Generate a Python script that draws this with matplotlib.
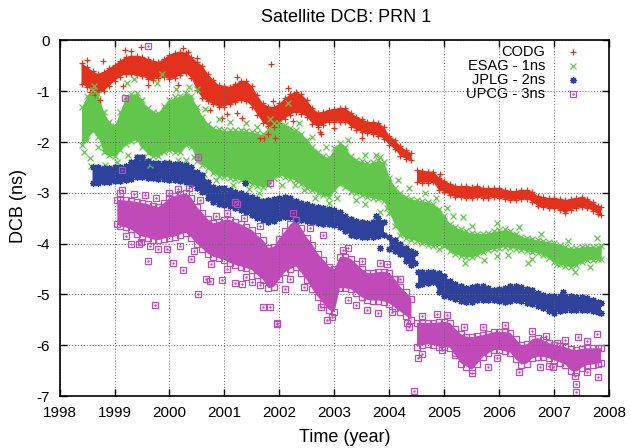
import numpy as np
import matplotlib.pyplot as plt

plt.rcParams['font.family'] = ['Liberation Sans', 'DejaVu Sans']
plt.rcParams['axes.unicode_minus'] = False

nan = np.nan

# ---- band edges (upper / lower envelope of the daily points)
codg_t = [1998.4, 1998.5, 1998.6, 1998.7, 1998.8, 1998.9, 1999.0, 1999.1, 1999.2, 1999.3,
          1999.4, 1999.5, 1999.6, 1999.7, 1999.8, 1999.9, 2000.0, 2000.1, 2000.2, 2000.3,
          2000.4, 2000.5, 2000.6, 2000.7, 2000.8, 2000.9, 2001.0, 2001.1, 2001.2, 2001.3,
          2001.4, 2001.5, 2001.6, 2001.7, 2001.8, 2001.9, 2002.0, 2002.1, 2002.2, 2002.3,
          2002.4, 2002.5, 2002.6, 2002.7, 2002.8, 2002.9, 2003.0, 2003.1, 2003.2, 2003.3,
          2003.4, 2003.5, 2003.6, 2003.7, 2003.8, 2003.9, 2004.0, 2004.1, 2004.2, 2004.3,
          2004.4, 2004.45, 2004.5, 2004.6, 2004.7, 2004.8, 2004.9, 2005.0, 2005.1, 2005.2,
          2005.3, 2005.4, 2005.5, 2005.6, 2005.7, 2005.8, 2005.9, 2006.0, 2006.1, 2006.2,
          2006.3, 2006.4, 2006.5, 2006.6, 2006.7, 2006.8, 2006.9, 2007.0, 2007.1, 2007.2,
          2007.3, 2007.4, 2007.5, 2007.6, 2007.7, 2007.8, 2007.85]
codg_hi = [-0.45, -0.52, -0.60, -0.66, -0.62, -0.55, -0.48, -0.40, -0.33, -0.30,
           -0.30, -0.32, -0.36, -0.40, -0.42, -0.36, -0.28, -0.24, -0.22, -0.24,
           -0.32, -0.42, -0.50, -0.66, -0.78, -0.88, -0.90, -0.91, -0.86, -0.79,
           -0.80, -0.90, -1.08, -1.24, -1.30, -1.31, -1.24, -1.14, -1.06, -1.01,
           -1.06, -1.17, -1.33, -1.42, -1.40, -1.37, -1.35, -1.33, -1.33, -1.42,
           -1.50, -1.55, -1.60, -1.61, -1.62, -1.70, -1.88, -1.95, -2.08, -2.16,
           -2.22, nan, -2.55, -2.56, -2.58, -2.58, -2.70, -2.76, -2.82, -2.86,
           -2.87, -2.87, -2.88, -2.86, -2.90, -2.91, -2.90, -2.91, -2.94, -2.97,
           -2.97, -2.94, -2.94, -2.98, -3.06, -3.09, -3.10, -3.10, -3.12, -3.14,
           -3.12, -3.10, -3.08, -3.12, -3.18, -3.26, -3.28]
codg_lo = [-0.85, -0.92, -0.98, -1.02, -1.00, -0.90, -0.80, -0.72, -0.66, -0.66,
           -0.68, -0.70, -0.76, -0.78, -0.74, -0.72, -0.76, -0.74, -0.68, -0.64,
           -0.74, -0.98, -1.14, -1.20, -1.26, -1.31, -1.30, -1.26, -1.22, -1.18,
           -1.20, -1.30, -1.46, -1.62, -1.68, -1.70, -1.62, -1.54, -1.46, -1.41,
           -1.44, -1.50, -1.64, -1.70, -1.66, -1.60, -1.60, -1.60, -1.60, -1.70,
           -1.76, -1.80, -1.82, -1.84, -1.88, -1.94, -2.06, -2.14, -2.28, -2.33,
           -2.36, nan, -2.78, -2.80, -2.80, -2.79, -2.95, -2.98, -3.05, -3.08,
           -3.09, -3.10, -3.10, -3.08, -3.10, -3.10, -3.08, -3.10, -3.12, -3.14,
           -3.14, -3.12, -3.12, -3.18, -3.26, -3.28, -3.30, -3.30, -3.34, -3.40,
           -3.34, -3.30, -3.28, -3.30, -3.36, -3.42, -3.44]

esag_t = [1998.4, 1998.5, 1998.6, 1998.7, 1998.8, 1998.9, 1999.0, 1999.1, 1999.2, 1999.3,
          1999.4, 1999.5, 1999.6, 1999.7, 1999.8, 1999.9, 2000.0, 2000.1, 2000.2, 2000.3,
          2000.4, 2000.5, 2000.6, 2000.7, 2000.8, 2000.9, 2001.0, 2001.1, 2001.2, 2001.3,
          2001.4, 2001.5, 2001.6, 2001.7, 2001.8, 2001.9, 2002.0, 2002.1, 2002.2, 2002.3,
          2002.4, 2002.5, 2002.6, 2002.7, 2002.8, 2002.9, 2003.0, 2003.1, 2003.2, 2003.3,
          2003.4, 2003.5, 2003.6, 2003.7, 2003.8, 2003.9, 2004.0, 2004.1, 2004.2, 2004.3,
          2004.4, 2004.5, 2004.6, 2004.7, 2004.8, 2004.9, 2005.0, 2005.1, 2005.2, 2005.3,
          2005.4, 2005.5, 2005.6, 2005.7, 2005.8, 2005.9, 2006.0, 2006.1, 2006.2, 2006.3,
          2006.4, 2006.5, 2006.6, 2006.7, 2006.8, 2006.9, 2007.0, 2007.1, 2007.2, 2007.3,
          2007.4, 2007.5, 2007.6, 2007.7, 2007.8, 2007.85]
esag_hi = [-1.30, -1.10, -0.98, -1.05, -1.40, -1.60, -1.68, -1.40, -1.12, -1.06,
           -1.04, -1.18, -1.32, -1.40, -1.42, -1.28, -1.17, -1.12, -1.10, -1.04,
           -1.10, -1.31, -1.50, -1.65, -1.72, -1.75, -1.77, -1.77, -1.76, -1.77,
           -1.78, -1.80, -1.83, -1.85, -1.75, -1.63, -1.62, -1.66, -1.72, -1.77,
           -1.85, -1.96, -2.09, -2.20, -2.28, -2.30, -2.12, -2.02, -2.10, -2.28,
           -2.35, -2.38, -2.42, -2.40, -2.36, -2.40, -2.70, -2.90, -3.00, -3.08,
           -3.12, -3.14, -3.16, -3.18, -3.22, -3.32, -3.45, -3.62, -3.68, -3.72,
           -3.76, -3.79, -3.80, -3.80, -3.79, -3.76, -3.74, -3.72, -3.76, -3.80,
           -3.86, -3.88, -3.90, -3.93, -3.94, -3.96, -3.99, -4.02, -4.06, -4.09,
           -4.08, -4.06, -4.05, -4.06, -4.06, -4.05]
esag_lo = [-2.05, -1.95, -1.78, -1.90, -2.20, -2.26, -2.28, -2.15, -2.04, -1.98,
           -1.96, -2.10, -2.22, -2.28, -2.28, -2.20, -2.16, -2.20, -2.20, -2.06,
           -2.10, -2.38, -2.45, -2.52, -2.60, -2.66, -2.68, -2.70, -2.72, -2.75,
           -2.78, -2.82, -2.86, -2.88, -2.85, -2.70, -2.65, -2.68, -2.72, -2.75,
           -2.82, -2.90, -2.94, -3.00, -3.05, -3.08, -2.95, -2.82, -2.88, -2.98,
           -3.01, -3.04, -3.08, -3.10, -3.12, -3.16, -3.40, -3.65, -3.82, -3.88,
           -3.92, -3.94, -3.98, -4.02, -4.05, -4.00, -4.05, -4.15, -4.20, -4.24,
           -4.26, -4.26, -4.22, -4.16, -4.12, -4.10, -4.08, -4.06, -4.08, -4.10,
           -4.12, -4.14, -4.16, -4.18, -4.22, -4.28, -4.36, -4.40, -4.44, -4.45,
           -4.42, -4.36, -4.32, -4.32, -4.30, -4.30]

jplg_t = [1998.6, 1998.7, 1998.8, 1998.9, 1999.0, 1999.1, 1999.2, 1999.3, 1999.4, 1999.5,
          1999.6, 1999.7, 1999.8, 1999.9, 2000.0, 2000.1, 2000.2, 2000.3, 2000.4, 2000.5,
          2000.6, 2000.7, 2000.8, 2000.9, 2001.0, 2001.1, 2001.2, 2001.3, 2001.4, 2001.5,
          2001.6, 2001.7, 2001.8, 2001.9, 2002.0, 2002.1, 2002.2, 2002.3, 2002.4, 2002.5,
          2002.6, 2002.7, 2002.8, 2002.9, 2003.0, 2003.1, 2003.2, 2003.3, 2003.4, 2003.5,
          2003.6, 2003.7, 2003.8, 2003.9, 2003.95, 2004.0, 2004.1, 2004.2, 2004.3, 2004.4,
          2004.47, 2004.49, 2004.52, 2004.6, 2004.7, 2004.8, 2004.9, 2005.0, 2005.1, 2005.2,
          2005.3, 2005.4, 2005.5, 2005.6, 2005.7, 2005.8, 2005.9, 2006.0, 2006.1, 2006.2,
          2006.3, 2006.4, 2006.5, 2006.6, 2006.7, 2006.8, 2006.9, 2007.0, 2007.1, 2007.2,
          2007.3, 2007.4, 2007.5, 2007.6, 2007.7, 2007.8, 2007.85]
jplg_hi = [-2.49, -2.50, -2.51, -2.51, -2.50, -2.49, -2.47, -2.40, -2.30, -2.29,
           -2.38, -2.42, -2.42, -2.41, -2.42, -2.43, -2.44, -2.45, -2.50, -2.58,
           -2.65, -2.78, -2.88, -2.90, -2.91, -2.94, -2.98, -3.01, -3.04, -3.08,
           -3.12, -3.16, -3.14, -3.12, -3.10, -3.08, -3.10, -3.16, -3.20, -3.22,
           -3.25, -3.28, -3.30, -3.32, -3.34, -3.38, -3.45, -3.52, -3.55, -3.58,
           -3.60, -3.58, -3.50, -3.57, nan, -3.87, -3.92, -4.00, -4.08, -4.14,
           -4.18, nan, -4.56, -4.56, -4.56, -4.56, -4.58, -4.64, -4.74, -4.80,
           -4.84, -4.87, -4.86, -4.83, -4.84, -4.88, -4.91, -4.89, -4.87, -4.84,
           -4.83, -4.86, -4.90, -4.92, -4.97, -5.01, -5.03, -5.04, -5.04, -5.04,
           -5.04, -5.05, -5.06, -5.07, -5.10, -5.14, -5.17]
jplg_lo = [-2.81, -2.80, -2.79, -2.78, -2.77, -2.76, -2.75, -2.72, -2.68, -2.68,
           -2.70, -2.71, -2.72, -2.72, -2.74, -2.75, -2.76, -2.78, -2.82, -2.90,
           -2.98, -3.10, -3.18, -3.22, -3.24, -3.26, -3.30, -3.34, -3.38, -3.44,
           -3.50, -3.54, -3.57, -3.56, -3.50, -3.47, -3.48, -3.52, -3.53, -3.55,
           -3.58, -3.60, -3.61, -3.62, -3.63, -3.68, -3.76, -3.82, -3.84, -3.86,
           -3.87, -3.86, -3.84, -3.83, nan, -4.10, -4.14, -4.20, -4.34, -4.42,
           -4.38, nan, -4.82, -4.80, -4.78, -4.76, -4.95, -5.04, -5.06, -5.08,
           -5.12, -5.15, -5.14, -5.11, -5.11, -5.11, -5.11, -5.13, -5.15, -5.12,
           -5.11, -5.13, -5.16, -5.18, -5.23, -5.27, -5.32, -5.37, -5.32, -5.30,
           -5.30, -5.30, -5.30, -5.30, -5.32, -5.35, -5.37]

upcg_t = [1999.05, 1999.1, 1999.2, 1999.3, 1999.4, 1999.5, 1999.6, 1999.7, 1999.8, 1999.9,
          2000.0, 2000.1, 2000.2, 2000.3, 2000.4, 2000.5, 2000.6, 2000.7, 2000.8, 2000.9,
          2001.0, 2001.1, 2001.2, 2001.3, 2001.4, 2001.5, 2001.6, 2001.7, 2001.8, 2001.9,
          2002.0, 2002.1, 2002.2, 2002.3, 2002.4, 2002.5, 2002.6, 2002.7, 2002.8, 2002.9,
          2003.0, 2003.1, 2003.2, 2003.3, 2003.4, 2003.5, 2003.6, 2003.7, 2003.8, 2003.9,
          2004.0, 2004.1, 2004.2, 2004.3, 2004.4, 2004.45, 2004.5, 2004.6, 2004.7, 2004.8,
          2004.9, 2005.0, 2005.1, 2005.2, 2005.3, 2005.4, 2005.5, 2005.6, 2005.7, 2005.8,
          2005.9, 2006.0, 2006.1, 2006.2, 2006.3, 2006.4, 2006.5, 2006.6, 2006.7, 2006.8,
          2006.9, 2007.0, 2007.1, 2007.2, 2007.3, 2007.4, 2007.5, 2007.6, 2007.7, 2007.8,
          2007.85]
upcg_hi = [-3.14, -3.14, -3.15, -3.16, -3.18, -3.20, -3.22, -3.25, -3.28, -3.20,
           -3.10, -3.06, -3.03, -3.01, -3.10, -3.28, -3.40, -3.52, -3.60, -3.57,
           -3.53, -3.53, -3.58, -3.62, -3.68, -3.73, -3.84, -3.93, -4.08, -4.06,
           -3.90, -3.76, -3.62, -3.53, -3.70, -3.88, -4.02, -4.20, -4.32, -4.45,
           -4.50, -4.26, -4.26, -4.30, -4.40, -4.50, -4.58, -4.58, -4.56, -4.55,
           -4.58, -4.70, -4.85, -4.96, -5.08, nan, -5.56, -5.56, -5.56, -5.56,
           -5.55, -5.54, -5.56, -5.68, -5.78, -5.83, -5.84, -5.82, -5.80, -5.77,
           -5.74, -5.74, -5.74, -5.76, -5.88, -6.00, -5.98, -5.88, -5.86, -5.90,
           -5.96, -5.99, -6.02, -6.04, -6.08, -6.09, -6.07, -6.06, -6.06, -6.06,
           -6.06]
upcg_lo = [-3.62, -3.66, -3.68, -3.72, -3.80, -3.86, -3.88, -3.92, -3.93, -3.90,
           -3.88, -3.86, -3.82, -3.79, -3.88, -4.00, -4.10, -4.20, -4.26, -4.29,
           -4.32, -4.38, -4.42, -4.45, -4.48, -4.52, -4.62, -4.71, -4.88, -4.85,
           -4.70, -4.56, -4.50, -4.45, -4.58, -4.72, -4.90, -5.05, -5.18, -5.30,
           -5.35, -4.88, -4.88, -4.90, -4.98, -5.06, -5.11, -5.12, -5.12, -5.14,
           -5.18, -5.26, -5.34, -5.42, -5.50, nan, -6.03, -6.00, -5.98, -6.00,
           -6.03, -6.03, -6.05, -6.20, -6.36, -6.42, -6.48, -6.36, -6.23, -6.16,
           -6.10, -6.09, -6.12, -6.15, -6.28, -6.38, -6.36, -6.26, -6.23, -6.23,
           -6.26, -6.30, -6.34, -6.38, -6.50, -6.52, -6.44, -6.39, -6.38, -6.36,
           -6.34]

# ---- isolated points lying off / around the bands
codg_out_t = [1998.79, 1998.65, 1998.74, 1998.55, 1999.19, 1999.49, 1999.3, 2000.25, 2000.34,
              2001.22, 2001.84, 2000.74, 2000.95, 2001.22, 2001.31, 2001.65, 2001.72, 2001.8,
              2002.16, 2001.89, 2001.92, 2002.74, 2002.76, 2004.92, 2000.5, 1999.9,
              1998.5, 1999.15, 1999.6, 2000.15, 2001.05, 2002.25, 2003.0, 2003.5]
codg_out_v = [-0.40, -1.08, -1.17, -1.02, -0.19, -0.12, -0.20, -0.15, -0.22,
              -0.71, -0.46, -1.37, -1.53, -1.43, -1.53, -1.92, -1.92, -1.85,
              -0.94, -1.20, -1.92, -1.80, -1.84, -2.62, -0.35, -0.55,
              -0.38, -0.90, -0.88, -0.88, -1.45, -1.58, -1.72, -1.92]

esag_out_t = [1999.86, 1999.78, 1999.22, 1999.36, 1998.55, 1998.58, 1998.83, 2001.8, 2001.83,
              2002.16, 2002.28, 2003.83, 2003.83, 2005.04, 2005.34, 2005.38, 2005.71, 2006.52,
              2007.04, 2007.38, 2007.77, 2007.65, 2000.5, 1998.62, 2002.9, 2003.4, 2001.0,
              2000.3, 1999.5, 2004.9, 2005.15,
              1998.45, 1998.7, 1999.05, 1999.25, 1999.65, 1999.95, 2000.15, 2000.45, 2000.62,
              2000.85, 2001.15, 2001.45, 2001.62, 2002.05, 2002.45, 2002.65, 2003.05, 2003.55,
              2003.95, 2000.12, 2000.35, 2000.65, 2000.9, 2001.1, 2001.4, 2001.6, 2002.35,
              2002.6, 2002.85, 2003.25, 2003.55, 2003.75, 2004.15, 2004.35, 2004.65, 2004.85,
              2005.5, 2005.95, 2006.35, 2006.75, 2007.25, 2006.15, 2006.6, 2005.95]
esag_out_v = [-0.65, -0.83, -0.84, -0.75, -2.32, -2.48, -2.45, -1.96, -1.55,
              -1.24, -2.85, -2.29, -3.38, -3.30, -3.47, -4.38, -4.32, -4.38,
              -4.40, -4.55, -3.89, -4.45, -0.95, -0.90, -3.20, -3.15, -2.90,
              -2.35, -2.30, -4.10, -3.45,
              -2.20, -2.10, -2.40, -2.25, -2.45, -2.40, -2.35, -2.30, -2.62,
              -2.75, -2.85, -2.92, -3.00, -2.85, -2.95, -3.10, -3.10, -3.22,
              -3.30, -0.95, -0.92, -1.35, -1.55, -1.60, -1.62, -1.70, -1.62,
              -1.90, -2.10, -1.95, -2.25, -2.25, -2.75, -2.90, -3.00, -3.10,
              -3.65, -3.60, -3.68, -3.80, -3.95, -4.22, -4.30, -4.25]

jplg_out_t = [2001.37, 2003.83, 2007.16, 2003.75]
jplg_out_v = [-2.81, -4.09, -4.95, -3.45]

upcg_out_t = [1999.61, 1999.19, 2000.52, 1999.13, 1999.13, 2001.83, 2001.19, 2001.22, 1999.74,
              2000.52, 1999.61, 2000.67, 2000.73, 2000.95, 2001.19, 2001.31, 2001.7, 2001.83,
              2001.95, 2000.25, 2000.07, 1999.49, 1999.8, 2000.0, 2001.96, 2002.8, 2003.25,
              2003.83, 2004.32, 2004.86, 2004.52, 2004.6, 2004.45, 2002.86, 2002.95, 2003.8,
              2004.95, 2005.2, 2005.5, 2005.8, 2006.74, 2006.98, 2006.85, 2007.43, 2007.77,
              2007.8, 2007.38, 2007.4, 2007.4, 2007.04, 1999.3, 2000.4, 2001.5, 2002.1, 2003.4,
              1999.1, 1999.35, 1999.55, 1999.75, 2000.15, 2000.35, 2000.55, 2000.85, 2001.05,
              2001.35, 2001.65, 2002.25, 2002.55, 2003.15, 2003.5, 2003.95, 2004.2, 1999.2,
              1999.45, 1999.65, 1999.95, 2000.2, 2000.45, 2000.75, 2001.05, 2001.4, 2001.65,
              2002.2, 2002.45, 2002.75, 2003.25, 2003.6, 2004.05, 2004.35, 2004.6, 2005.05,
              2005.35, 2005.7, 2006.1, 2006.6, 2007.2, 2007.6, 2005.95, 2006.35, 2006.9, 2007.6]
upcg_out_v = [-0.10, -1.13, -2.29, -2.55, -2.94, -2.81, -3.17, -3.22, -5.21,
              -4.99, -4.34, -4.69, -4.74, -4.71, -4.77, -4.79, -5.24, -5.25,
              -5.58, -4.52, -4.38, -3.97, -4.10, -3.00, -5.57, -3.83, -4.09,
              -4.38, -5.57, -5.38, -6.25, -6.18, -6.90, -5.50, -5.44, -5.37,
              -6.09, -6.15, -6.55, -6.42, -6.42, -6.42, -5.82, -5.84, -5.78,
              -6.62, -6.60, -6.77, -6.92, -5.95, -4.00, -4.30, -4.75, -4.90, -5.20,
              -3.00, -3.02, -3.05, -3.10, -2.92, -2.90, -3.15, -3.45, -3.40,
              -3.50, -3.65, -3.40, -3.70, -4.12, -4.35, -4.40, -4.70, -3.85,
              -4.00, -4.05, -4.10, -4.05, -4.15, -4.40, -4.50, -4.65, -4.82,
              -4.70, -4.85, -5.25, -5.10, -5.30, -5.35, -5.65, -5.42, -5.40,
              -5.65, -5.65, -5.60, -5.72, -5.90, -5.92, -6.25, -6.52, -6.40, -6.52]

labels = ["CODG", "ESAG - 1ns", "JPLG - 2ns", "UPCG - 3ns"]
colors = ["#e2311d", "#62c64c", "#2e419b", "#c04bb8"]
markers = ["+", "x", (8, 2, 0), "s"]

series = [
    (codg_t, codg_hi, codg_lo, codg_out_t, codg_out_v),
    (esag_t, esag_hi, esag_lo, esag_out_t, esag_out_v),
    (jplg_t, jplg_hi, jplg_lo, jplg_out_t, jplg_out_v),
    (upcg_t, upcg_hi, upcg_lo, upcg_out_t, upcg_out_v),
]

fig = plt.figure(figsize=(6.31, 4.48), dpi=100)
ax = fig.add_axes([0.0943, 0.116, 0.8716, 0.7936])

for (t, hi, lo, ot, ov), col, mk in zip(series, colors, markers):
    t = np.array(t)
    hi = np.array(hi)
    lo = np.array(lo)
    ax.fill_between(t, lo, hi, color=col, lw=0)
    kw = dict(ls="none", marker=mk, ms=5, mew=0.9, color=col)
    if mk == "s":
        kw.update(mfc="none", ms=4.6)
    ax.plot(t, hi, **kw)
    ax.plot(t, lo, **kw)
    ax.plot(ot, ov, **kw)
    if mk == "s":
        ax.plot(ot, ov, ls="none", marker=".", ms=1.5, color=col)

# legend, gnuplot style: right-aligned text with the key to its right
for i, (lab, col, mk) in enumerate(zip(labels, colors, markers)):
    y = 0.968 - i * 0.0395
    ax.text(0.883, y, lab, transform=ax.transAxes, ha="right", va="center", fontsize=10.5)
    kw = dict(ls="none", marker=mk, ms=5, mew=0.9, color=col, transform=ax.transAxes, clip_on=False)
    if mk == "s":
        kw.update(mfc="none", ms=4.6)
    ax.plot([0.934], [y], **kw)
    if mk == "s":
        ax.plot([0.934], [y], ls="none", marker=".", ms=1.5, color=col, transform=ax.transAxes)

ax.set_xlim(1998, 2008)
ax.set_ylim(-7, 0)
ax.set_xticks(range(1998, 2009))
ax.set_yticks(range(-7, 1))
ax.grid(True, color="0.4", ls=(0, (1, 2)), lw=0.7)
ax.tick_params(direction="in", length=5, width=1, top=True, right=True, labelsize=11, pad=7)
for sp in ax.spines.values():
    sp.set_linewidth(1.2)

fig.text(0.549, 0.96, "Satellite DCB: PRN 1", ha="center", va="center", fontsize=13)
fig.text(0.547, 0.024, "Time (year)", ha="center", va="center", fontsize=13)
fig.text(0.029, 0.54, "DCB (ns)", ha="center", va="center", rotation=90, fontsize=13)

fig.savefig("out.png", dpi=100)
